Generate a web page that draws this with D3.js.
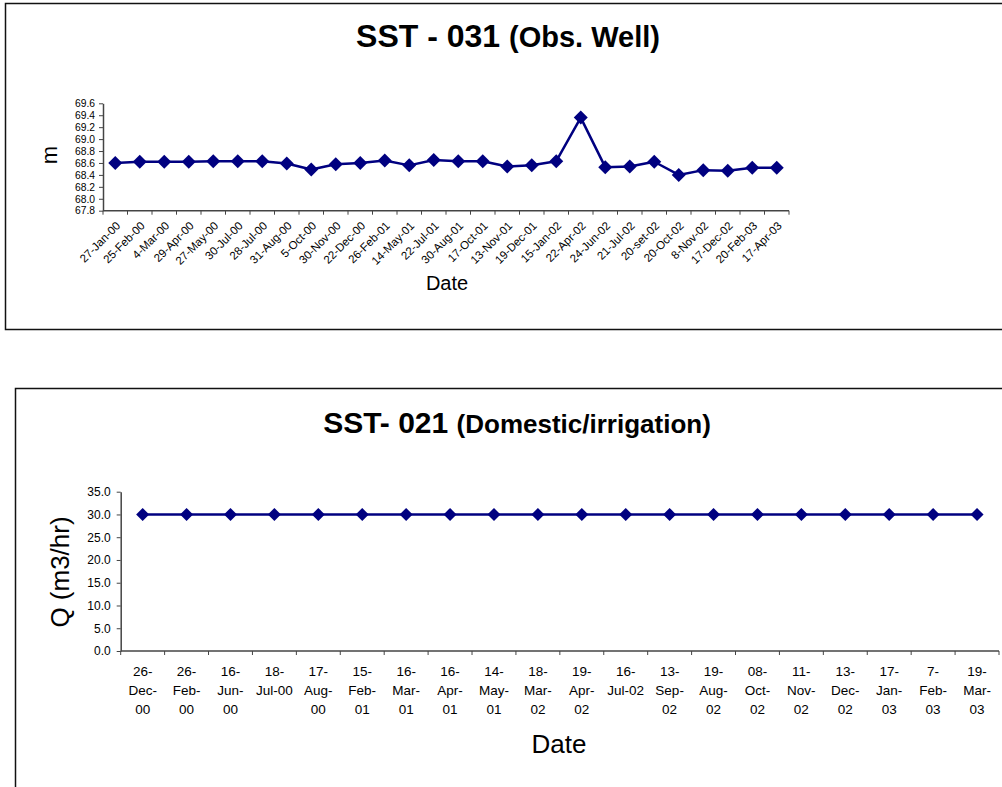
<!DOCTYPE html>
<html>
<head>
<meta charset="utf-8">
<script src="https://cdn.jsdelivr.net/npm/d3@7"></script>
<style>
  html, body { margin: 0; padding: 0; background: #fff; }
  svg { display: block; font-family: "Liberation Sans", Arial, sans-serif; }
</style>
</head>
<body>
<svg id="chart" width="1002" height="787"></svg>
<script>
// ---------- DATA ----------
const obsDates = ["27-Jan-00","25-Feb-00","4-Mar-00","29-Apr-00","27-May-00","30-Jul-00","28-Jul-00","31-Aug-00","5-Oct-00","30-Nov-00","22-Dec-00","26-Feb-01","14-May-01","22-Jul-01","30-Aug-01","17-Oct-01","13-Nov-01","19-Dec-01","15-Jan-02","22-Apr-02","24-Jun-02","21-Jul-02","20-set-02","20-Oct-02","8-Nov-02","17-Dec-02","20-Feb-03","17-Apr-03"];
const obsLevels = [68.60,68.62,68.62,68.62,68.63,68.63,68.63,68.59,68.49,68.58,68.60,68.64,68.56,68.65,68.63,68.63,68.54,68.56,68.63,69.36,68.53,68.54,68.62,68.40,68.48,68.47,68.52,68.52];
const obsYTicks = [67.8,68.0,68.2,68.4,68.6,68.8,69.0,69.2,69.4,69.6];

const domDates = ["26-Dec-00","26-Feb-00","16-Jun-00","18-Jul-00","17-Aug-00","15-Feb-01","16-Mar-01","16-Apr-01","14-May-01","18-Mar-02","19-Apr-02","16-Jul-02","13-Sep-02","19-Aug-02","08-Oct-02","11-Nov-02","13-Dec-02","17-Jan-03","7-Feb-03","19-Mar-03"];
const domFlow = [30.0,30.0,30.0,30.0,30.0,30.0,30.0,30.0,30.0,30.0,30.0,30.0,30.0,30.0,30.0,30.0,30.0,30.0,30.0,30.0];
const domYTicks = [0,5,10,15,20,25,30,35];

// ---------- STYLE ----------
const NAVY = "#000080";
const AXIS = "#444";
const svg = d3.select("#chart");
const diamond = r => `M0,${-r}L${r},0L0,${r}L${-r},0Z`;

// frames
svg.append("rect").attr("x", 5.5).attr("y", 3.5).attr("width", 1010).attr("height", 326)
  .attr("fill", "none").attr("stroke", "#111").attr("stroke-width", 1.5);
svg.append("rect").attr("x", 15.5).attr("y", 388.5).attr("width", 1000).attr("height", 420)
  .attr("fill", "none").attr("stroke", "#111").attr("stroke-width", 1.5);

// ---------- CHART 1 ----------
{
  const g = svg.append("g");
  const x = d3.scaleBand().domain(obsDates).range([103, 789]).padding(0);
  const y = d3.scaleLinear().domain([67.8, 69.6]).range([210.7, 103.3]);
  const cx = d => x(d) + x.bandwidth() / 2;

  // title
  const t = g.append("text").attr("x", 508).attr("y", 47).attr("text-anchor", "middle")
    .attr("font-weight", "bold").attr("fill", "#000");
  t.append("tspan").attr("font-size", 32).text("SST - 031 ");
  t.append("tspan").attr("font-size", 29).text("(Obs. Well)");

  // y axis
  const ya = g.append("g").attr("transform", "translate(103,0)")
    .call(d3.axisLeft(y).tickValues(obsYTicks).tickFormat(d3.format(".1f")).tickSize(4).tickSizeOuter(0).tickPadding(4));
  ya.select(".domain").attr("stroke", AXIS).attr("stroke-width", 1.5);
  ya.selectAll(".tick line").attr("stroke", AXIS);
  ya.selectAll("text").attr("font-size", 10.3).attr("font-family", "Liberation Sans, Arial, sans-serif").attr("fill", "#000");

  // x axis
  const y0 = y(67.8);
  g.append("line").attr("x1", x.range()[0]).attr("x2", x.range()[1]).attr("y1", y0).attr("y2", y0)
    .attr("stroke", AXIS).attr("stroke-width", 1.5);
  const bounds = obsDates.map(d => x(d)).concat([x.range()[1]]);
  g.selectAll(".xt").data(bounds).enter().append("line")
    .attr("x1", d => d).attr("x2", d => d).attr("y1", y0).attr("y2", y0 + 4)
    .attr("stroke", AXIS);
  g.selectAll(".xl").data(obsDates).enter().append("text")
    .attr("transform", d => `translate(${cx(d) + 3},${y0 + 13}) rotate(-45)`)
    .attr("text-anchor", "end").attr("dy", "0.35em").attr("font-size", 11.5).attr("fill", "#000")
    .text(d => d);

  // axis titles
  g.append("text").attr("transform", "translate(57,155) rotate(-90)").attr("text-anchor", "middle")
    .attr("font-size", 22).attr("fill", "#000").text("m");
  g.append("text").attr("x", 447).attr("y", 290).attr("text-anchor", "middle")
    .attr("font-size", 20).attr("fill", "#000").text("Date");

  // series
  const line = d3.line().x((d, i) => cx(obsDates[i])).y(d => y(d));
  g.append("path").datum(obsLevels).attr("d", line).attr("fill", "none")
    .attr("stroke", NAVY).attr("stroke-width", 2.5).attr("stroke-linejoin", "round");
  g.selectAll(".pt").data(obsLevels).enter().append("path")
    .attr("transform", (d, i) => `translate(${cx(obsDates[i])},${y(d)})`)
    .attr("d", diamond(7)).attr("fill", NAVY);
}

// ---------- CHART 2 ----------
{
  const g = svg.append("g");
  const x = d3.scaleBand().domain(domDates).range([120.7, 999]).padding(0);
  const y = d3.scaleLinear().domain([0, 35]).range([651, 491.7]);
  const cx = d => x(d) + x.bandwidth() / 2;

  const t = g.append("text").attr("x", 517).attr("y", 433).attr("text-anchor", "middle")
    .attr("font-weight", "bold").attr("fill", "#000");
  t.append("tspan").attr("font-size", 30).text("SST- 021 ");
  t.append("tspan").attr("font-size", 26).text("(Domestic/irrigation)");

  const ya = g.append("g").attr("transform", "translate(120.7,0)")
    .call(d3.axisLeft(y).tickValues(domYTicks).tickFormat(d3.format(".1f")).tickSize(4).tickSizeOuter(0).tickPadding(6));
  ya.select(".domain").attr("stroke", AXIS).attr("stroke-width", 1.5);
  ya.selectAll(".tick line").attr("stroke", AXIS);
  ya.selectAll("text").attr("font-size", 12).attr("font-family", "Liberation Sans, Arial, sans-serif").attr("fill", "#000");

  const y0 = y(0);
  g.append("line").attr("x1", x.range()[0]).attr("x2", x.range()[1]).attr("y1", y0).attr("y2", y0)
    .attr("stroke", AXIS).attr("stroke-width", 1.5);
  const bounds = domDates.map(d => x(d)).concat([x.range()[1]]);
  g.selectAll(".xt").data(bounds).enter().append("line")
    .attr("x1", d => d).attr("x2", d => d).attr("y1", y0).attr("y2", y0 + 4)
    .attr("stroke", AXIS);

  // wrapped tick labels (break after hyphens when too wide)
  const maxW = 39;
  const labels = g.selectAll(".xl").data(domDates).enter().append("text")
    .attr("text-anchor", "middle").attr("font-size", 13.5).attr("fill", "#000");
  labels.each(function (d) {
    const el = d3.select(this);
    const parts = d.split("-").map((p, i, a) => i < a.length - 1 ? p + "-" : p);
    const probe = el.append("tspan");
    const lines = [];
    let cur = "";
    parts.forEach(p => {
      const test = cur + p;
      probe.text(test);
      if (cur && probe.node().getComputedTextLength() > maxW) { lines.push(cur); cur = p; }
      else cur = test;
    });
    lines.push(cur);
    probe.remove();
    lines.forEach((ln, i) => {
      el.append("tspan").attr("x", cx(d)).attr("y", 675.5 + i * 19.3).text(ln);
    });
  });

  g.append("text").attr("transform", "translate(69,572) rotate(-90)").attr("text-anchor", "middle")
    .attr("font-size", 26).attr("fill", "#000").text("Q (m3/hr)");
  g.append("text").attr("x", 559).attr("y", 753).attr("text-anchor", "middle")
    .attr("font-size", 26).attr("fill", "#000").text("Date");

  const line = d3.line().x((d, i) => cx(domDates[i])).y(d => y(d));
  g.append("path").datum(domFlow).attr("d", line).attr("fill", "none")
    .attr("stroke", NAVY).attr("stroke-width", 2.5);
  g.selectAll(".pt").data(domFlow).enter().append("path")
    .attr("transform", (d, i) => `translate(${cx(domDates[i])},${y(d)})`)
    .attr("d", diamond(6.5)).attr("fill", NAVY);
}
</script>
</body>
</html>
